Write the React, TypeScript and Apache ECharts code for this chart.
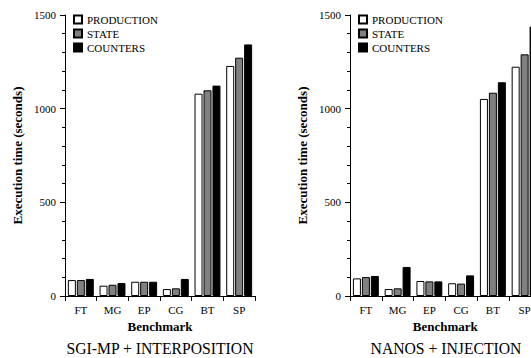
import React, { useEffect, useRef } from "react";
import * as echarts from "echarts";

const categories = ["FT", "MG", "EP", "CG", "BT", "SP"];
const seriesNames = ["PRODUCTION", "STATE", "COUNTERS"];
const leftProduction = [85, 55, 76, 37, 1080, 1228];
const leftState = [85, 60, 76, 41, 1098, 1272];
const leftCounters = [91, 69, 76, 91, 1123, 1343];
const rightProduction = [94, 37, 80, 68, 1052, 1224];
const rightState = [101, 41, 78, 66, 1085, 1290];
const rightCounters = [107, 155, 78, 110, 1141, 1438];
const yTicks = [0, 500, 1000, 1500];
const titles = ["SGI-MP + INTERPOSITION", "NANOS + INJECTION"];

const FONT = "'Liberation Serif', 'Times New Roman', serif";
const colors = ["#ffffff", "#808080", "#000000"];

export default function App() {
  const ref = useRef<HTMLDivElement>(null);
  useEffect(() => {
    if (!ref.current) return;
    const chart = echarts.init(ref.current, undefined, { renderer: "svg" });
    const grids = [
      { left: 65, top: 15, width: 190, height: 281, containLabel: false, outerBoundsMode: "none" },
      { left: 350, top: 15, width: 190.5, height: 281, containLabel: false, outerBoundsMode: "none" },
    ];
    const mkX = (gi: number) => ({
      type: "category",
      gridIndex: gi,
      data: categories,
      boundaryGap: true,
      axisLine: { show: true, lineStyle: { color: "#000", width: 1 } },
      axisTick: { show: true, length: 5, alignWithLabel: false, lineStyle: { color: "#000" } },
      axisLabel: { color: "#000", fontFamily: FONT, fontSize: 11, margin: 8 },
      name: "Benchmark",
      nameLocation: "middle",
      nameGap: 24,
      nameTextStyle: { color: "#000", fontFamily: FONT, fontSize: 13, fontWeight: "bold" },
      splitLine: { show: false },
    });
    const mkY = (gi: number) => ({
      type: "value",
      gridIndex: gi,
      min: yTicks[0],
      max: yTicks[yTicks.length - 1],
      interval: 500,
      axisLine: { show: true, lineStyle: { color: "#000", width: 1 } },
      axisTick: { show: true, length: 5, lineStyle: { color: "#000" } },
      minorTick: { show: true, splitNumber: 5, length: 3, lineStyle: { color: "#000" } },
      axisLabel: {
        color: "#000",
        fontFamily: FONT,
        fontSize: 11,
        margin: 9,
        formatter: (v: number) => String(v),
      },
      splitLine: { show: false },
      name: "Execution time (seconds)",
      nameLocation: "middle",
      nameGap: 41,
      nameTextStyle: { color: "#000", fontFamily: FONT, fontSize: 13, fontWeight: "bold" },
    });
    const data = [
      [leftProduction, leftState, leftCounters],
      [rightProduction, rightState, rightCounters],
    ];
    const series: any[] = [];
    data.forEach((set, gi) => {
      set.forEach((vals, si) => {
        series.push({
          type: "bar",
          name: seriesNames[si],
          xAxisIndex: gi,
          yAxisIndex: gi,
          data: vals,
          barWidth: 8,
          barGap: "12%",
          itemStyle: { color: colors[si], borderColor: "#000", borderWidth: 1 },
        });
      });
    });
    const mkLegend = (left: number) => ({
      orient: "vertical",
      left,
      top: 13,
      itemWidth: 8,
      itemHeight: 8,
      itemGap: 1,
      icon: "rect",
      data: seriesNames,
      textStyle: { color: "#000", fontFamily: FONT, fontSize: 11, lineHeight: 13 },
      padding: 0,
      selectedMode: false,
    });
    const mkTitle = (text: string, left: number) => ({
      text,
      left,
      top: 340,
      textAlign: "center",
      padding: 0,
      textStyle: { color: "#000", fontFamily: FONT, fontSize: 15.7, fontWeight: "normal" },
    });
    chart.setOption({
      animation: false,
      backgroundColor: "#fff",
      grid: grids,
      xAxis: [mkX(0), mkX(1)],
      yAxis: [mkY(0), mkY(1)],
      legend: [mkLegend(73), mkLegend(358)],
      title: [mkTitle(titles[0], 160), mkTitle(titles[1], 446)],
      series,
    });
    return () => chart.dispose();
  }, []);
  return (
    <div style={{ position: "fixed", left: 0, top: 0, width: 531, height: 358, overflow: "hidden", background: "#fff" }}>
      <div ref={ref} style={{ width: 570, height: 358 }} />
    </div>
  );
}
